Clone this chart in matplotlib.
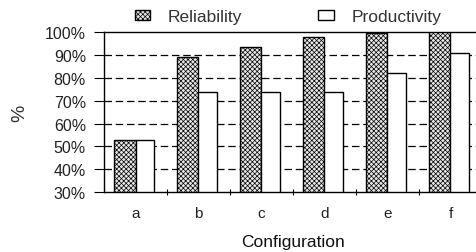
import matplotlib.pyplot as plt
from matplotlib.patches import Patch

configuracoes = ["a", "b", "c", "d", "e", "f"]
reliability = [53, 89, 93.5, 98, 99.5, 100]
productivity = [53, 74, 74, 74, 82, 91]
y_ticks = [30, 40, 50, 60, 70, 80, 90, 100]

plt.rcParams['font.family'] = ['Liberation Sans', 'DejaVu Sans']
plt.rcParams['hatch.linewidth'] = 0.5
plt.rcParams['hatch.color'] = '#808080'

fig = plt.figure(figsize=(4.76, 2.53), dpi=100)
ax = fig.add_axes([0.2185, 0.237, 0.794, 0.632])

pos = list(range(len(configuracoes)))
ax.bar([p + 0.16 for p in pos], [r - 30 for r in reliability], width=0.34, bottom=30,
       align='edge', facecolor='#e8e8e8', edgecolor='black', hatch='xxxxxxx', linewidth=1, zorder=3)
ax.bar([p + 0.50 for p in pos], [v - 30 for v in productivity], width=0.29, bottom=30,
       align='edge', facecolor='white', edgecolor='black', linewidth=1, zorder=3)

ax.set_xlim(0, 6)
ax.set_ylim(30, 100)
ax.set_yticks(y_ticks)
ax.set_yticklabels([f"{v}%" for v in y_ticks], fontsize=11.5, color='#222222')
ax.set_xticks([p + 0.5 for p in pos])
ax.set_xticklabels(configuracoes, fontsize=11, color='#222222')
ax.tick_params(axis='x', which='major', length=0, pad=10)
ax.set_xticks(pos[1:], minor=True)
ax.tick_params(axis='x', which='minor', length=5, direction='inout', width=0.8)
ax.tick_params(axis='y', length=7, width=0.8, pad=6)

for v in y_ticks[1:-1]:
    ax.axhline(v, color='black', linestyle=(0, (6, 3)), linewidth=0.9, zorder=1)

for s in ax.spines.values():
    s.set_linewidth(1)
    s.set_color('black')

ax.set_xlabel("Configuration", fontsize=12.5, labelpad=10, color='#111111')
ax.set_ylabel("%", fontsize=14, labelpad=12, color='#333333')

handles = [
    Patch(facecolor='#e8e8e8', edgecolor='black', hatch='xxxxxxx', label='Reliability'),
    Patch(facecolor='white', edgecolor='black', label='Productivity'),
]
fig.legend(handles=handles, loc='center', bbox_to_anchor=(0.605, 0.93), ncol=2,
           frameon=False, fontsize=12.5, handlelength=0.9, handleheight=0.45,
           columnspacing=4.4, handletextpad=1.0, labelcolor='#333333')

plt.savefig("out.png", dpi=100)
plt.close()
